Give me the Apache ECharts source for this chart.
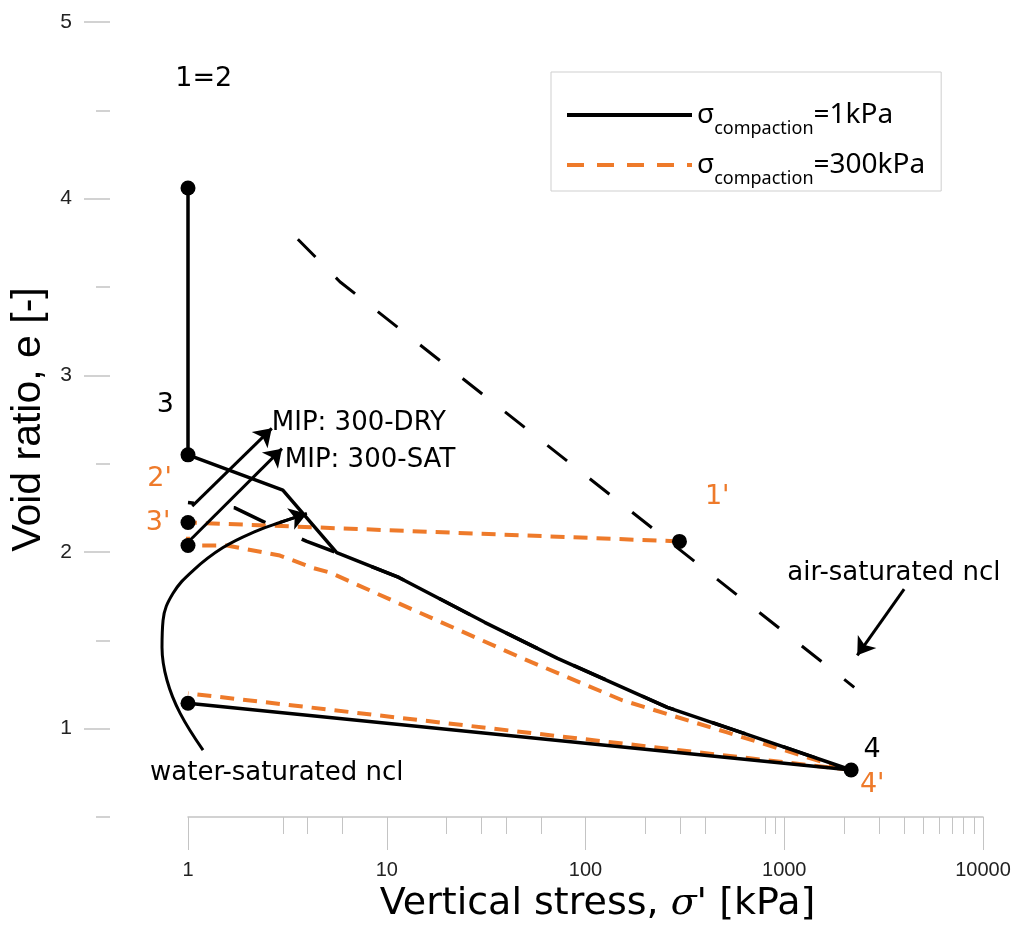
<!DOCTYPE html>
<html>
<head>
<meta charset="utf-8">
<script src="https://cdn.jsdelivr.net/npm/echarts@6/dist/echarts.min.js"></script>
<style>
html,body{margin:0;padding:0;background:#fff;}
#chart{width:1020px;height:936px;}
</style>
</head>
<body>
<div id="chart"></div>
<script>
// ---------- data ----------
const xMajorTicks = [1, 10, 100, 1000, 10000];
const xMinorTicks = [3, 4, 6, 20, 30, 40, 60, 200, 300, 400, 800, 900, 2000, 3000, 4000, 5000, 6000, 7000, 8000, 9000];
const yMajorTicks = [1, 2, 3, 4, 5];
const yMinorTicks = [0.5, 1.5, 2.5, 3.5, 4.5];

const legendNames = ['σcompaction=1kPa', 'σcompaction=300kPa'];
const legendValues = ['=1kPa', '=300kPa'];

// sigma_compaction = 1 kPa path (1=2 -> 3 -> 4 -> unload)
const comp1Stress = [1, 1, 3.0, 5.6, 11.5, 31.1, 72.3, 258, 622, 2171, 1];
const comp1Void   = [4.06, 2.55, 2.35, 1.997, 1.856, 1.602, 1.398, 1.121, 0.975, 0.766, 1.144];

// sigma_compaction = 300 kPa path (1' -> 2' -> 3' -> 4' -> unload)
const comp300Stress = [297, 1, 1, 1.57, 2.9, 4.25, 5.17, 17.0, 48.2, 153, 511, 1890, 2171, 1];
const comp300Void   = [2.06, 2.167, 2.037, 2.037, 1.98, 1.91, 1.884, 1.624, 1.398, 1.161, 0.980, 0.782, 0.766, 1.20];

// black dashed loading curve
const dashStress = [1, 1.72, 2.52, 3.96, 5.8, 11.5, 31.1, 72.3, 258, 622, 2171];
const dashVoid   = [2.28, 2.25, 2.16, 2.06, 1.99, 1.856, 1.602, 1.398, 1.121, 0.975, 0.766];

// air-saturated normal compression line
const airStress = [3.57, 5.81, 2250];
const airVoid   = [3.77, 3.53, 1.234];

// water-saturated ncl curve
const waterStress = [1.19, 0.912, 0.784, 0.740, 0.749, 0.841, 1.06, 1.50, 2.22, 2.90, 3.96];
const waterVoid   = [0.879, 1.088, 1.274, 1.46, 1.613, 1.766, 1.895, 2.025, 2.12, 2.167, 2.217];

// marked points
const dotStress = [1, 1, 1, 1, 1, 2171, 297];
const dotVoid   = [4.06, 2.55, 2.167, 2.037, 1.144, 0.766, 2.06];

// arrows
const arrowFromStress = [1.05, 1.02, 4010];
const arrowFromVoid   = [2.26, 2.065, 1.79];
const arrowToStress   = [2.64, 2.97, 2330];
const arrowToVoid     = [2.70, 2.585, 1.415];

// point labels
const ptLabelText   = ['1=2', '3', '4', "1'", "2'", "3'", "4'"];
const ptLabelStress = [1.20, 0.77, 2770, 460, 0.72, 0.707, 2770];
const ptLabelVoid   = [4.68, 2.83, 0.879, 2.31, 2.415, 2.167, 0.68];
const ptLabelOrange = [false, false, false, true, true, true, true];

// annotation texts (left anchored)
const noteText   = ['MIP: 300-DRY', 'MIP: 300-SAT', 'air-saturated ncl', 'water-saturated ncl'];
const noteStress = [2.64, 3.07, 1035, 0.644];
const noteVoid   = [2.73, 2.517, 1.878, 0.749];

// ---------- chart ----------
const ORANGE = '#EE7A2A';
const BLACK = '#000000';
const ANN_FONT = '"DejaVu Sans", Verdana, sans-serif';
const LEG_FONT = '"Noto Sans", "DejaVu Sans", sans-serif';
const SANS = '"Liberation Sans", Arial, sans-serif';
const zip = (a, b) => a.map((v, i) => [v, b[i]]);

// layout of the plot (pixels) and a wider hidden grid used for curves left of sigma'=1
const PLOT = { left: 188, right: 37, top: 22, bottom: 119 };
const WIDE_LEFT = 100;
const plotWidth = 1020 - PLOT.left - PLOT.right;
const xMinWide = Math.pow(10, -Math.log10(10000) * (PLOT.left - WIDE_LEFT) / plotWidth);

const chart = echarts.init(document.getElementById('chart'));

const option = {
  animation: false,
  backgroundColor: '#ffffff',
  grid: [
    { left: PLOT.left, right: PLOT.right, top: PLOT.top, bottom: PLOT.bottom, containLabel: false },
    { left: WIDE_LEFT, right: PLOT.right, top: PLOT.top, bottom: PLOT.bottom, containLabel: false }
  ],
  legend: {
    data: [
      { name: legendNames[0], lineStyle: { width: 4, color: BLACK, type: 'solid' } },
      { name: legendNames[1], lineStyle: { width: 4, color: ORANGE, type: [17, 13] } }
    ],
    orient: 'vertical',
    left: 551, top: 72,
    padding: [29, 16, 3, 14],
    itemGap: 13,
    itemWidth: 125, itemHeight: 4,
    borderColor: '#cfcfcf', borderWidth: 1,
    backgroundColor: '#fff',
    selectedMode: false,
    formatter: function (name) {
      const i = legendNames.indexOf(name);
      return '{s|σ}{c|compaction}{v|' + legendValues[i] + '}';
    },
    textStyle: {
      rich: {
        s: { fontFamily: LEG_FONT, fontSize: 28, color: BLACK, lineHeight: 36, verticalAlign: 'middle' },
        c: { fontFamily: LEG_FONT, fontSize: 18, color: BLACK, lineHeight: 18, verticalAlign: 'bottom', padding: [0, 0, -5, 0] },
        v: { fontFamily: LEG_FONT, fontSize: 28, color: BLACK, lineHeight: 36, verticalAlign: 'middle' }
      }
    }
  },
  xAxis: [
    {
      type: 'log', logBase: 10, min: 1, max: 10000, position: 'bottom', gridIndex: 0,
      name: "{a|Vertical stress, }{s|σ}{a|' [kPa]}",
      nameLocation: 'middle', nameGap: 63,
      nameTextStyle: {
        padding: [0, 0, 0, 24],
        rich: {
          a: { fontFamily: ANN_FONT, fontSize: 38, color: BLACK },
          s: { fontFamily: '"DejaVu Serif", serif', fontStyle: 'italic', fontSize: 38, color: BLACK }
        }
      },
      axisLine: { show: true, onZero: false, lineStyle: { color: '#c4c4c4', width: 1.5 } },
      axisTick: { show: true, length: 33, lineStyle: { color: '#c4c4c4', width: 1 } },
      axisLabel: {
        margin: 43, fontSize: 20, color: '#222', fontFamily: SANS,
        formatter: function (v) { return String(Math.round(v)); }
      },
      splitLine: { show: false }
    },
    {
      type: 'value', min: 0, max: 4, position: 'bottom', gridIndex: 0,
      axisLine: { show: false, onZero: false },
      axisTick: { show: true, length: 17, customValues: xMinorTicks.map(v => Math.log10(v)), lineStyle: { color: '#c4c4c4', width: 1 } },
      axisLabel: { show: false },
      splitLine: { show: false }
    },
    {
      type: 'log', logBase: 10, min: xMinWide, max: 10000, gridIndex: 1, show: false,
      axisLine: { onZero: false }
    }
  ],
  yAxis: [
    {
      type: 'value', min: 0.5, max: 5, position: 'left', offset: 78, gridIndex: 0,
      name: 'Void ratio, e [-]', nameLocation: 'middle', nameGap: 56,
      nameTextStyle: { fontFamily: SANS, fontSize: 41, color: BLACK },
      axisLine: { show: false, onZero: false },
      axisTick: { show: true, length: 26, customValues: yMajorTicks, lineStyle: { color: '#c4c4c4', width: 1.5 } },
      axisLabel: { margin: 38, fontSize: 21, color: '#222', fontFamily: SANS, customValues: yMajorTicks },
      splitLine: { show: false }
    },
    {
      type: 'value', min: 0.5, max: 5, position: 'left', offset: 78, gridIndex: 0,
      axisLine: { show: false, onZero: false },
      axisTick: { show: true, length: 14, customValues: yMinorTicks, lineStyle: { color: '#c4c4c4', width: 1.5 } },
      axisLabel: { show: false },
      splitLine: { show: false }
    },
    {
      type: 'value', min: 0.5, max: 5, gridIndex: 1, show: false,
      axisLine: { onZero: false }
    }
  ],
  series: [
    {
      name: 'air-saturated ncl line', type: 'line', clip: false, symbol: 'none', z: 2,
      data: zip(airStress, airVoid),
      lineStyle: { color: BLACK, width: 3, type: [25, 29] }
    },
    {
      name: 'loading dashed', type: 'line', clip: false, symbol: 'none', z: 2,
      data: zip(dashStress, dashVoid),
      lineStyle: { color: BLACK, width: 3.5, type: [35, 40], dashOffset: 29 }
    },
    {
      name: legendNames[1], type: 'line', clip: false, symbol: 'none', z: 3,
      data: zip(comp300Stress, comp300Void),
      itemStyle: { color: ORANGE },
      lineStyle: { color: ORANGE, width: 4, type: [14, 9] }
    },
    {
      name: legendNames[0], type: 'line', clip: false, symbol: 'none', z: 4,
      data: zip(comp1Stress, comp1Void),
      itemStyle: { color: BLACK },
      lineStyle: { color: BLACK, width: 3.5 }
    },
    {
      name: 'water-saturated ncl curve', type: 'line', clip: false, symbol: 'none', smooth: 0.4, z: 4,
      xAxisIndex: 2, yAxisIndex: 2,
      data: zip(waterStress, waterVoid),
      lineStyle: { color: BLACK, width: 3 }
    },
    {
      name: 'arrows', type: 'lines', coordinateSystem: 'cartesian2d', clip: false, z: 5,
      symbol: ['none', 'arrow'], symbolSize: 17,
      lineStyle: { color: BLACK, width: 3, opacity: 1 },
      data: arrowFromStress.map((s, i) => ({ coords: [[s, arrowFromVoid[i]], [arrowToStress[i], arrowToVoid[i]]] })).concat([
        { coords: [[waterStress[waterStress.length - 2], waterVoid[waterVoid.length - 2]], [waterStress[waterStress.length - 1], waterVoid[waterVoid.length - 1]]] }
      ])
    },
    {
      name: 'points', type: 'scatter', clip: false, z: 6,
      symbol: 'circle', symbolSize: 15,
      itemStyle: { color: BLACK, opacity: 1 },
      data: zip(dotStress, dotVoid)
    },
    {
      name: 'point labels', type: 'scatter', clip: false, z: 7, symbolSize: 0, silent: true,
      itemStyle: { opacity: 1 },
      data: ptLabelText.map((t, i) => ({
        name: t, value: [ptLabelStress[i], ptLabelVoid[i]],
        label: {
          show: true, position: 'inside', formatter: '{b}', align: 'center', verticalAlign: 'middle',
          fontFamily: ANN_FONT, fontSize: 27, color: ptLabelOrange[i] ? ORANGE : BLACK, opacity: 1
        }
      }))
    },
    {
      name: 'notes', type: 'scatter', clip: false, z: 7, symbolSize: 0, silent: true,
      itemStyle: { opacity: 1 },
      data: noteText.map((t, i) => ({
        name: t, value: [noteStress[i], noteVoid[i]],
        label: {
          show: true, position: 'inside', formatter: '{b}', align: 'left', verticalAlign: 'middle',
          fontFamily: ANN_FONT, fontSize: 26, color: BLACK, opacity: 1
        }
      }))
    }
  ]
};
chart.setOption(option);
</script>
</body>
</html>
